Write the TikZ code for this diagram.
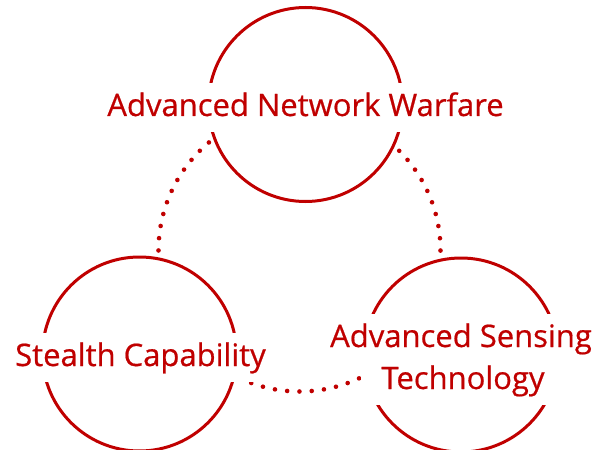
\documentclass[tikz,border=0pt]{standalone}
\usepackage{fontspec}
\setmainfont{Open Sans}
\newfontfamily\labelfont{Open Sans}[BoldFont={Open Sans}, BoldFeatures={FakeBold=0.6}]
\definecolor{darkred}{RGB}{192,0,0}
\tikzset{
  ring/.style={circle, draw=darkred, line width=3pt, fill=white, minimum size=194pt, inner sep=0pt},
  label/.style={fill=white, text=darkred, inner ysep=0pt, inner xsep=20pt, text height=33pt, text depth=16pt, anchor=base, font=\labelfont\bfseries\fontsize{31}{42}\selectfont},
  dotring/.style={draw=darkred, line width=4.6pt, line cap=round, dash pattern=on 0pt off 12.305pt}
}
\begin{document}
\begin{tikzpicture}[x=1pt,y=-1pt]
\useasboundingbox (0,0) rectangle (593,449);
% dotted ring behind the circles
\coordinate (O) at (299.5,250.5);
\draw[dotring] (O) circle [radius=141pt];
% circles
\node[ring] (A) at (305.5,104.5) {};
\node[ring] (B) at (139.5,354) {};
\node[ring] (C) at (461,355) {};
% labels
\node[label] (tA) at (305.5,116) {Advanced Network Warfare};
\node[label] (tB) at (140.5,366) {Stealth Capability};
\node[label] (tC1) at (461,347) {Advanced Sensing};
\node[label] (tC2) at (463,389) {Technology};
\end{tikzpicture}
\end{document}
